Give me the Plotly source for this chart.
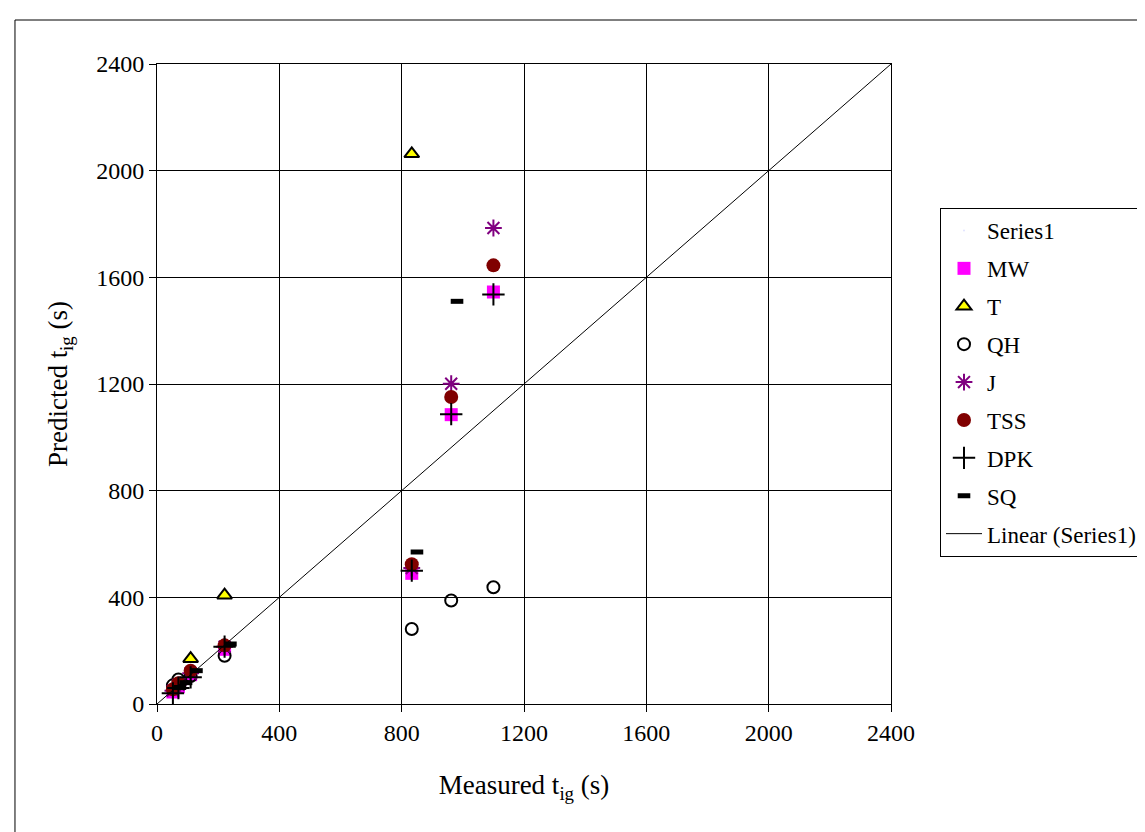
import numpy as np
import plotly.graph_objects as go

# ---- data ----
measured = [52, 70, 110, 221, 833, 962, 1100]
mw = [45, 65, 110, 205, 490, 1085, 1545]
t_meas = [110, 221, 833]
t_pred = [170, 408, 2063]
qh = [70, 92, 105, 181, 281, 388, 438]
j = [50, 72, 115, 215, 510, 1201, 1785]
tss = [55, 78, 125, 220, 524, 1151, 1645]
dpk = [40, 60, 100, 215, 500, 1087, 1536]
sq_meas = [75, 95, 129, 240, 850, 981]
sq_pred = [62, 80, 125, 225, 570, 1510]
series1_x = [0, 2400]
series1_y = [0, 2400]
ticks = [0, 400, 800, 1200, 1600, 2000, 2400]

FONT = "Liberation Serif"

fig = go.Figure()

fig.add_trace(go.Scatter(x=series1_x, y=series1_y, mode="markers", name="Series1",
                         marker=dict(size=1, opacity=0), legendgroup="g0"))
fig.add_trace(go.Scatter(x=measured, y=mw, mode="markers", name="MW", legendgroup="g1",
                         marker=dict(symbol="square", size=13, color="#FF00FF")))
fig.add_trace(go.Scatter(x=t_meas, y=t_pred, mode="markers", name="T", legendgroup="g2",
                         marker=dict(symbol="triangle-up", size=13, color="#FFFF00",
                                     line=dict(color="black", width=2))))
fig.add_trace(go.Scatter(x=measured, y=qh, mode="markers", name="QH", legendgroup="g3",
                         marker=dict(symbol="circle-open", size=12, color="black",
                                     line=dict(color="black", width=2))))
fig.add_trace(go.Scatter(x=measured, y=j, mode="markers", name="J", legendgroup="g4",
                         marker=dict(symbol="asterisk-open", size=14, color="#800080",
                                     line=dict(color="#800080", width=2))))
fig.add_trace(go.Scatter(x=measured, y=tss, mode="markers", name="TSS", legendgroup="g5",
                         marker=dict(symbol="circle", size=14, color="#800000")))
fig.add_trace(go.Scatter(x=measured, y=dpk, mode="markers", name="DPK", legendgroup="g6",
                         marker=dict(symbol="cross-thin-open", size=16, color="black",
                                     line=dict(color="black", width=2))))
fig.add_trace(go.Scatter(x=sq_meas, y=sq_pred, mode="markers", name="SQ", legendgroup="g7",
                         marker=dict(symbol="line-ew-open", size=9, color="black",
                                     line=dict(color="black", width=5))))

# linear trendline of Series1
coef = np.polyfit(series1_x, series1_y, 1)
lx = np.array([0, 2400])
fig.add_trace(go.Scatter(x=lx, y=np.polyval(coef, lx), mode="lines", name="Linear (Series1)",
                         legendgroup="g8", line=dict(color="black", width=1)))

axis_common = dict(
    range=[0, 2400], tickvals=ticks, ticktext=[str(v) for v in ticks],
    showgrid=True, gridcolor="black", gridwidth=1,
    showline=True, linecolor="black", linewidth=1, mirror=True,
    ticks="outside", ticklen=7, tickcolor="black", tickwidth=1,
    tickfont=dict(family=FONT, size=24, color="black"),
    zeroline=False,
)

fig.update_layout(
    width=1145, height=832,
    margin=dict(l=149, r=262, t=56, b=136),
    paper_bgcolor="white", plot_bgcolor="white",
    font=dict(family=FONT, color="black"),
    xaxis=dict(**axis_common,
               title=dict(text="Measured t<sub>ig</sub> (s)",
                          font=dict(family=FONT, size=27, color="black"), standoff=30)),
    yaxis=dict(**axis_common,
               title=dict(text="Predicted t<sub>ig</sub> (s)",
                          font=dict(family=FONT, size=27, color="black"), standoff=20)),
    legend=dict(xref="container", yref="container",
                x=932 / 1145, y=1 - 200 / 832, xanchor="left", yanchor="top",
                bgcolor="white", bordercolor="black", borderwidth=1,
                font=dict(family=FONT, size=23, color="black"),
                tracegroupgap=5, itemwidth=36),
    showlegend=True,
    shapes=[dict(type="rect", xref="paper", yref="paper",
                 x0=-0.1935, y0=-0.6, x1=1.6, y1=1.06875,
                 line=dict(color="black", width=1), fillcolor="rgba(0,0,0,0)",
                 layer="below")],
)

fig.write_html("out.html")
